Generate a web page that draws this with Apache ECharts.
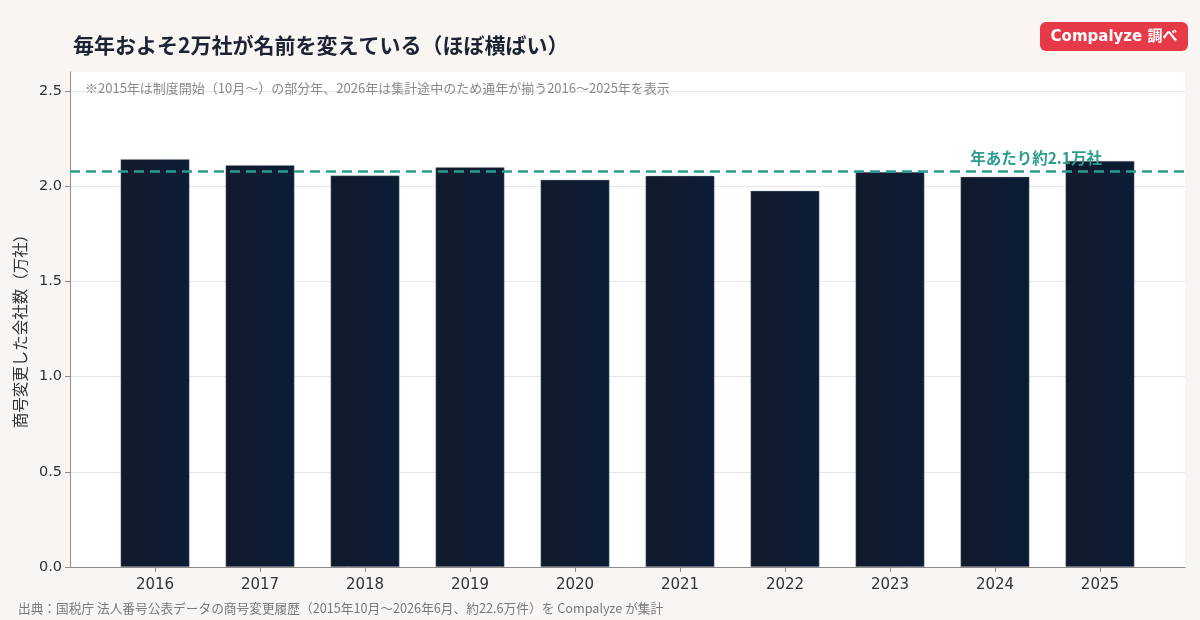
<!DOCTYPE html>
<html>
<head>
<meta charset="utf-8">
<script src="https://cdn.jsdelivr.net/npm/echarts@6/dist/echarts.min.js"></script>
<style>
html,body{margin:0;padding:0;background:#f8f5f3;}
#c{width:1200px;height:620px;}
</style>
</head>
<body>
<div id="c"></div>
<script>
const years = [2016, 2017, 2018, 2019, 2020, 2021, 2022, 2023, 2024, 2025];
const companies = [2.142, 2.111, 2.057, 2.100, 2.034, 2.055, 1.976, 2.075, 2.050, 2.133]; // 万社
const yTicks = [0, 0.5, 1.0, 1.5, 2.0, 2.5];
const avgValue = 2.075;
const titleText = '毎年およそ2万社が名前を変えている（ほぼ横ばい）';
const noteText = '※2015年は制度開始（10月〜）の部分年、2026年は集計途中のため通年が揃う2016〜2025年を表示';
const sourceText = '出典：国税庁 法人番号公表データの商号変更履歴（2015年10月〜2026年6月、約22.6万件）を Compalyze が集計';
const yAxisName = '商号変更した会社数（万社）';
const avgLabel = '年あたり約2.1万社';
const badgeText = 'Compalyze 調べ';

const FONT = '"Noto Sans CJK JP", "Noto Sans", sans-serif';
const NUMFONT = '"DejaVu Sans", "Noto Sans CJK JP", sans-serif';
const chart = echarts.init(document.getElementById('c'), null, {renderer: 'canvas'});

chart.setOption({
  backgroundColor: '#f8f5f3',
  animation: false,
  textStyle: {fontFamily: FONT},
  title: [
    {text: titleText, left: 68, top: 30,
     textStyle: {fontSize: 21, fontWeight: 'bold', color: '#1c2333', fontFamily: FONT}},
    {text: noteText, left: 80, top: 77,
     textStyle: {fontSize: 13, fontWeight: 'normal', color: '#8a8a8a', fontFamily: FONT}},
    {text: sourceText, left: 13, top: 597,
     textStyle: {fontSize: 12.7, fontWeight: 'normal', color: '#7a7a7a', fontFamily: FONT}}
  ],
  graphic: [{
    type: 'group', right: 12, top: 22,
    children: [
      {type: 'rect', shape: {x: 0, y: 0, width: 148, height: 29, r: 6},
       style: {fill: '#e63a48'}},
      {type: 'text', x: 74, y: 15,
       style: {text: badgeText, fill: '#ffffff', font: 'bold 15px ' + NUMFONT,
               textAlign: 'center', textVerticalAlign: 'middle'}}
    ]
  }],
  grid: {left: 70, right: 15, top: 72, bottom: 53, show: true,
         backgroundColor: '#ffffff', borderWidth: 0},
  xAxis: {
    type: 'value', min: 2015.19, max: 2025.81,
    axisLine: {show: true, lineStyle: {color: '#8c8c8c', width: 1}},
    axisTick: {show: true, customValues: years, length: 5, lineStyle: {color: '#8c8c8c'}},
    axisLabel: {customValues: years, color: '#333333', fontSize: 15, margin: 11,
                fontFamily: NUMFONT, formatter: v => String(Math.round(v))},
    splitLine: {show: false}
  },
  yAxis: {
    type: 'value', min: 0, max: 2.6,
    name: yAxisName, nameLocation: 'middle', nameGap: 41,
    nameTextStyle: {fontSize: 15.5, color: '#333333', fontFamily: FONT, padding: [0, 16, 0, 0]},
    axisLine: {show: true, lineStyle: {color: '#8c8c8c', width: 1}},
    axisTick: {show: true, customValues: yTicks, length: 5, lineStyle: {color: '#8c8c8c'}},
    axisLabel: {customValues: yTicks, color: '#333333', fontSize: 14.5, margin: 8,
                fontFamily: NUMFONT, formatter: v => v.toFixed(1)},
    splitLine: {show: true, lineStyle: {color: '#e6e6ec', width: 1}}
  },
  series: [{
    type: 'bar',
    data: years.map((y, i) => [y, companies[i]]),
    barWidth: 69,
    itemStyle: {
      color: new echarts.graphic.LinearGradient(0, 0, 1, 0, [
        {offset: 0, color: '#111a2b'}, {offset: 1, color: '#0b1c36'}
      ]),
      borderColor: 'rgba(150,160,175,0.6)', borderWidth: 0.6
    },
    markLine: {
      silent: true, symbol: 'none',
      lineStyle: {color: '#2a9d8f', type: [10, 6], width: 2.5},
      label: {show: true, position: 'insideEndTop', formatter: avgLabel,
              color: '#2a9d8f', fontSize: 15.5, fontWeight: 'bold', fontFamily: FONT,
              padding: [0, 78, 0, 0], distance: 5},
      data: [{yAxis: avgValue}]
    }
  }]
});
</script>
</body>
</html>
